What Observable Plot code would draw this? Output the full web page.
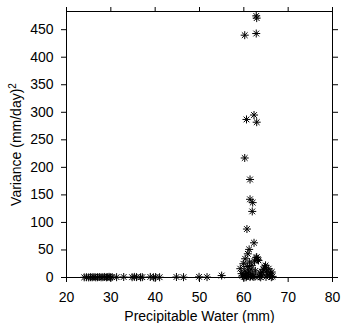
<!DOCTYPE html>
<html><head><meta charset="utf-8">
<script src="https://cdn.jsdelivr.net/npm/d3@7"></script>
<script src="https://cdn.jsdelivr.net/npm/@observablehq/plot@0.6"></script>
<style>body{margin:0;background:#fff} svg{display:block}</style>
</head><body><div id="chart"></div>
<script>
const precipWater = [
  24.0, 24.5, 25.0, 25.4, 25.8, 26.2, 26.6, 27.0, 27.4, 27.8, 28.2, 28.6, 29.0, 29.3, 29.6, 29.9, 30.3,
  31.3, 32.9, 34.8, 35.3, 35.8, 36.7, 37.1, 38.9, 39.6, 40.1, 41.0, 44.8, 46.4, 49.9, 51.7, 55.0,
  59.2, 59.5, 59.7, 59.9, 60.0, 60.2, 60.3, 60.4, 60.6, 60.7, 60.8, 60.9, 61.0, 61.1, 61.2, 61.3,
  61.5, 61.6, 61.8, 62.0, 62.1, 62.3, 62.4, 62.6, 62.8, 62.9, 63.1, 63.3, 63.5, 63.7, 64.0, 64.1,
  64.4, 64.7, 64.9, 65.1, 65.3, 65.6, 65.8, 66.0, 66.3, 66.5, 60.5, 61.4, 62.5, 63.8, 65.0, 66.2,
  60.2, 61.4, 61.4, 62.0, 61.9, 60.2, 62.8, 62.8, 62.9, 62.3, 60.6, 62.9
];
const variance = [
  0.3, 0.5, 0.2, 0.6, 0.4, 0.8, 0.3, 0.5, 0.9, 0.4, 0.6, 1.0, 0.3, 0.7, 1.2, 0.5, 0.8,
  0.6, 0.9, 0.5, 1.1, 0.7, 0.4, 0.6, 1.0, 0.4, 0.8, 0.5, 0.9, 0.6, 1.2, 0.7, 3.5,
  16, 7, 3, 25, 1, 12, 34, 5, 2, 88, 20, 43, 8, 10, 51, 28,
  3, 15, 22, 5, 1, 63, 30, 12, 36, 37, 33, 31, 2, 8, 4, 10,
  15, 19, 22, 12, 6, 16, 3, 8, 10, 2, 0.5, 0.8, 1.5, 0.3, 1, 0.5,
  217, 178, 142, 136, 120, 440, 443, 475, 471, 295, 287, 282
];
const xTicks = [20, 30, 40, 50, 60, 70, 80];
const yTicks = [0, 50, 100, 150, 200, 250, 300, 350, 400, 450];
const xLabel = "Precipitable Water (mm)";
const yLabelBase = "Variance (mm/day)";
const yLabelSup = "2";

const data = precipWater.map((x, i) => ({x, y: variance[i]}));
const font = "'Liberation Sans', Arial, sans-serif";

const chart = Plot.plot({
  width: 341, height: 323,
  marginLeft: 66, marginRight: 9, marginTop: 11, marginBottom: 46,
  style: {fontFamily: font, fontSize: "14px", color: "black", background: "white"},
  x: {domain: [20, 80]},
  y: {domain: [0, 483]},
  marks: [
    Plot.frame({stroke: "black"}),
    Plot.axisX({anchor: "bottom", ticks: xTicks, tickSize: 5, tickPadding: 10, label: xLabel, labelAnchor: "center", labelArrow: "none"}),
    Plot.axisX({anchor: "top", ticks: xTicks, tickSize: 5, tickFormat: () => "", label: null}),
    Plot.axisY({anchor: "left", ticks: yTicks, tickSize: 5, tickPadding: 8, label: yLabelBase + yLabelSup, labelAnchor: "center", labelArrow: "none", labelOffset: 55}),
    Plot.axisY({anchor: "right", ticks: yTicks, tickSize: 5, tickFormat: () => "", label: null}),
    Plot.dot(data, {x: "x", y: "y", symbol: "plus", r: 2.7, stroke: "black", strokeWidth: 1}),
    Plot.dot(data, {x: "x", y: "y", symbol: "times", r: 2.7, stroke: "black", strokeWidth: 1})
  ]
});
document.getElementById("chart").appendChild(chart);

// Render the exponent of the y label as a true superscript
d3.select(chart).selectAll("text").each(function () {
  const t = d3.select(this);
  if (t.text() === yLabelBase + yLabelSup) {
    t.text(yLabelBase);
    t.append("tspan").attr("dy", "-0.5em").attr("font-size", "10px").text(yLabelSup);
  }
});
</script>
</body></html>
